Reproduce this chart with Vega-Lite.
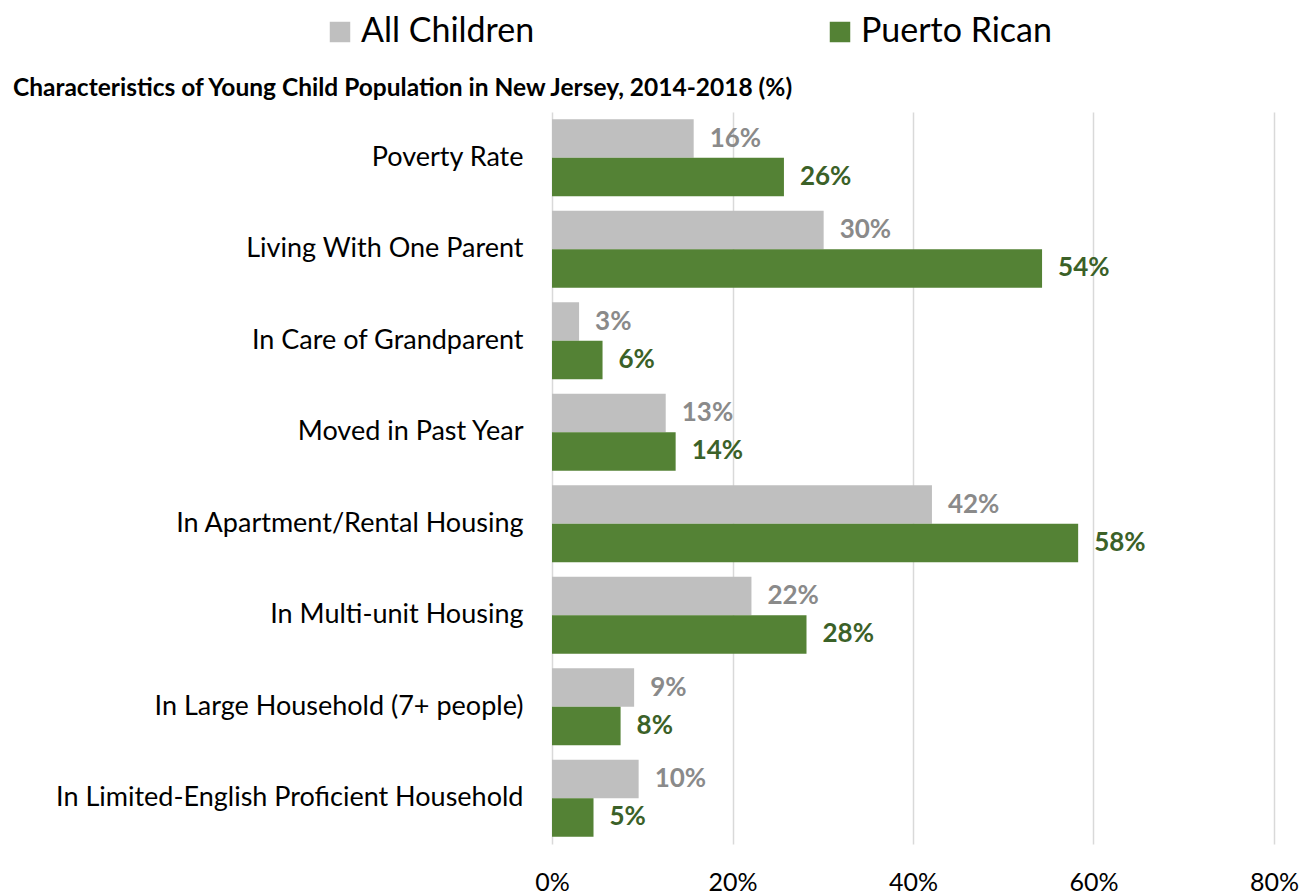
{
  "$schema": "https://vega.github.io/schema/vega-lite/v6.json",
  "autosize": "none",
  "width": 722,
  "height": 732,
  "padding": {"left": 552, "top": 112, "right": 30, "bottom": 50},
  "background": "white",
  "config": {"view": {"stroke": null}, "font": "Lato"},
  "title": {
    "text": "Characteristics of Young Child Population in New Jersey, 2014-2018 (%)",
    "anchor": "start",
    "frame": "group",
    "dx": -539,
    "dy": 100,
    "offset": 14,
    "fontSize": 24.5,
    "fontWeight": "bold",
    "font": "Lato",
    "color": "#000000"
  },
  "data": {
    "values": [
      {"category": "Poverty Rate", "series": "All Children", "value": 0.157},
      {"category": "Poverty Rate", "series": "Puerto Rican", "value": 0.257},
      {"category": "Living With One Parent", "series": "All Children", "value": 0.301},
      {"category": "Living With One Parent", "series": "Puerto Rican", "value": 0.543},
      {"category": "In Care of Grandparent", "series": "All Children", "value": 0.030},
      {"category": "In Care of Grandparent", "series": "Puerto Rican", "value": 0.056},
      {"category": "Moved in Past Year", "series": "All Children", "value": 0.126},
      {"category": "Moved in Past Year", "series": "Puerto Rican", "value": 0.137},
      {"category": "In Apartment/Rental Housing", "series": "All Children", "value": 0.421},
      {"category": "In Apartment/Rental Housing", "series": "Puerto Rican", "value": 0.583},
      {"category": "In Multi-unit Housing", "series": "All Children", "value": 0.221},
      {"category": "In Multi-unit Housing", "series": "Puerto Rican", "value": 0.282},
      {"category": "In Large Household (7+ people)", "series": "All Children", "value": 0.091},
      {"category": "In Large Household (7+ people)", "series": "Puerto Rican", "value": 0.076},
      {"category": "In Limited-English Proficient Household", "series": "All Children", "value": 0.096},
      {"category": "In Limited-English Proficient Household", "series": "Puerto Rican", "value": 0.046}
    ]
  },
  "encoding": {
    "y": {
      "field": "category",
      "type": "nominal",
      "sort": null,
      "scale": {"paddingInner": 0.16, "paddingOuter": 0.08},
      "axis": {
        "title": null,
        "ticks": false,
        "domain": false,
        "grid": false,
        "labelFontSize": 27,
        "labelFont": "Lato",
        "labelColor": "#000000",
        "labelPadding": 29,
        "labelLimit": 600
      }
    },
    "yOffset": {
      "field": "series",
      "type": "nominal",
      "sort": ["All Children", "Puerto Rican"],
      "scale": {"paddingInner": 0, "paddingOuter": 0}
    },
    "x": {
      "field": "value",
      "type": "quantitative",
      "scale": {"domain": [0, 0.8], "nice": false},
      "axis": {
        "title": null,
        "orient": "bottom",
        "values": [0, 0.2, 0.4, 0.6, 0.8],
        "format": ".0%",
        "ticks": false,
        "tickSize": 0,
        "domain": false,
        "grid": true,
        "gridColor": "#d9d9d9",
        "gridWidth": 1.5,
        "labelFlush": false,
        "labelFontSize": 25,
        "labelFont": "Lato",
        "labelColor": "#000000",
        "labelPadding": 26
      }
    }
  },
  "layer": [
    {
      "mark": {"type": "bar"},
      "encoding": {
        "color": {
          "field": "series",
          "type": "nominal",
          "sort": ["All Children", "Puerto Rican"],
          "scale": {"domain": ["All Children", "Puerto Rican"], "range": ["#bfbfbf", "#548235"]},
          "legend": {
            "title": null,
            "orient": "none",
            "direction": "horizontal",
            "legendX": -229,
            "legendY": -97,
            "symbolType": "square",
            "symbolSize": 420,
            "symbolStrokeWidth": 0,
            "labelFontSize": 34,
            "labelFont": "Lato",
            "labelColor": "#000000",
            "labelOffset": 4,
            "columnPadding": 288,
            "labelLimit": 400
          }
        }
      }
    },
    {
      "mark": {"type": "text", "align": "left", "baseline": "middle", "dx": 16, "fontWeight": "bold", "fontSize": 26, "font": "Lato"},
      "encoding": {
        "text": {"field": "value", "type": "quantitative", "format": ".0%"},
        "color": {
          "field": "series",
          "type": "nominal",
          "scale": {"domain": ["All Children", "Puerto Rican"], "range": ["#8a8a8a", "#3b6128"]},
          "legend": null
        }
      }
    }
  ],
  "resolve": {"scale": {"color": "independent"}}
}
